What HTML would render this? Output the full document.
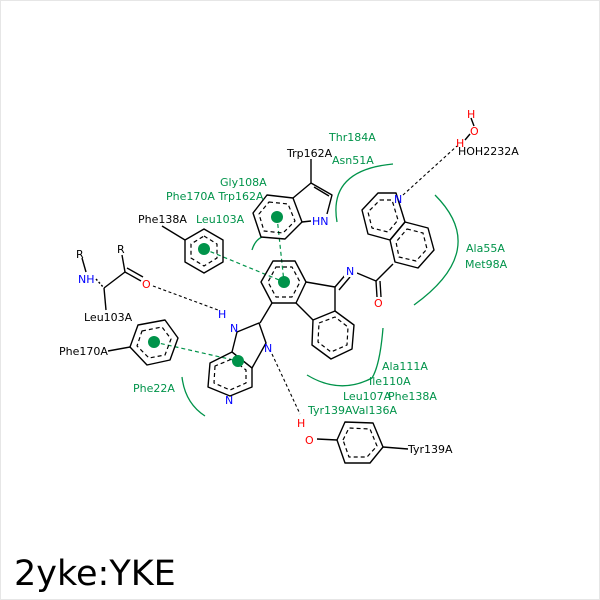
<!DOCTYPE html>
<html><head><meta charset="utf-8"><style>
html,body{margin:0;padding:0;background:#fff}
svg{display:block}
text{font-family:"DejaVu Sans","Liberation Sans",sans-serif;font-size:11px}
.g{fill:#00934a}.k{fill:#000}.b{fill:#0000ff}.r{fill:#ff0000}
</style></head><body>
<svg width="600" height="600" viewBox="0 0 600 600" xmlns="http://www.w3.org/2000/svg">
<rect x="0.5" y="0.5" width="599" height="599" fill="#fff" stroke="#e6e6e6"/>
<g fill="none" stroke="#00934a" stroke-width="1.3">
<path d="M337,222 Q328,170 393,164"/>
<path d="M435,195 Q490,250 414,305"/>
<path d="M182,377 Q185,403 205,416"/>
<path d="M307,375 Q340,395 372,378 Q380,365 383,328"/>
<path d="M252,250 Q255,240 262,237"/>
</g>
<g stroke="#00934a" stroke-width="1.2" stroke-dasharray="4,3" fill="none">
<line x1="204" y1="249" x2="284" y2="282"/>
<line x1="277" y1="217" x2="284" y2="282"/>
<line x1="154" y1="342" x2="238" y2="361"/>
</g>
<g stroke="#000" stroke-width="1.1" stroke-dasharray="3,2.5" fill="none">
<line x1="403" y1="195" x2="457" y2="146"/>
<line x1="153" y1="286" x2="218" y2="310"/>
<line x1="272" y1="354" x2="300" y2="414"/>
</g>
<g stroke="#000" stroke-width="1.4" fill="none" stroke-linejoin="round">
<polygon points="204,229 223,240 223,262 204,273 185,262 185,240"/>
<polygon points="204,236 217,244 217,258 204,266 191,258 191,244" stroke-dasharray="4,3" stroke-width="1.2"/>
<line x1="185" y1="240" x2="162" y2="226"/>
<polygon points="267,195 293,198 302,222 285,239 261,237 253,213"/>
<polygon points="269,202 288,204 295,221 283,233 264,231 259,214" stroke-dasharray="4,3" stroke-width="1.2"/>
<polyline points="293,198 311,183 332,195 327,214"/>
<line x1="314" y1="187" x2="329" y2="196"/>
<line x1="302" y1="222" x2="311" y2="221"/>
<line x1="311" y1="183" x2="311" y2="159"/>
<polygon points="273,261 295,261 306,282 296,303 272,303 261,282"/>
<polygon points="276,267 292,267 300,282 292,297 276,297 268,282" stroke-dasharray="4,3" stroke-width="1.2"/>
<polyline points="306,282 335,287 335,311"/>
<line x1="296" y1="303" x2="313" y2="320"/>
<polygon points="313,320 335,311 354,325 352,349 331,359 312,345"/>
<polygon points="319,323 335,317 348,327 347,345 331,352 318,342" stroke-dasharray="4,3" stroke-width="1.2"/>
<line x1="335" y1="287" x2="347" y2="273"/>
<line x1="339" y1="290" x2="350" y2="277"/>
<line x1="357" y1="273" x2="376" y2="281"/>
<line x1="376" y1="281" x2="377" y2="297"/>
<line x1="380" y1="281" x2="381" y2="297"/>
<line x1="376" y1="281" x2="393" y2="264"/>
<polygon points="378,193 396,193 405,222 390,240 368,234 362,210"/>
<polygon points="380,200 392,200 398,220 388,232 372,228 368,212" stroke-dasharray="4,3" stroke-width="1.2"/>
<polygon points="405,222 428,228 434,250 418,268 395,262 390,240"/>
<polygon points="407,229 423,233 427,249 416,261 399,257 396,242" stroke-dasharray="4,3" stroke-width="1.2"/>
<line x1="272" y1="303" x2="260" y2="323"/>
<polygon points="232,352 237,332 259,323 266,343 252,368"/>
<polygon points="210,363 208,387 230,396 252,387 252,368 232,352"/>
<polygon points="215,366 214,383 230,390 246,383 246,370 232,359" stroke-dasharray="4,3" stroke-width="1.2"/>
<polygon points="138,325 165,320 178,338 170,360 147,365 130,347"/>
<polygon points="142,331 162,327 171,339 165,355 149,358 137,346" stroke-dasharray="4,3" stroke-width="1.2"/>
<line x1="130" y1="347" x2="108" y2="351"/>
<polygon points="337,440 345,422 373,423 383,447 370,463 345,463"/>
<polygon points="343,440 349,428 370,429 377,446 367,457 349,457" stroke-dasharray="4,3" stroke-width="1.2"/>
<line x1="317" y1="439" x2="337" y2="440"/>
<line x1="383" y1="447" x2="408" y2="449"/>
<line x1="96" y1="279" x2="104" y2="288" stroke-dasharray="2,2"/>
<line x1="104" y1="288" x2="125" y2="272"/>
<line x1="125" y1="272" x2="122" y2="255"/>
<line x1="125" y1="272" x2="141" y2="281"/>
<line x1="127" y1="268" x2="143" y2="277"/>
<line x1="104" y1="288" x2="106" y2="310"/>
<line x1="82" y1="258" x2="86" y2="272"/>
<line x1="471" y1="118" x2="474" y2="126"/>
<line x1="470" y1="134" x2="465" y2="140"/>
</g>
<g class="g">
<circle cx="204" cy="249" r="6"/><circle cx="277" cy="217" r="6"/><circle cx="284" cy="282" r="6"/>
<circle cx="154" cy="342" r="6"/><circle cx="238" cy="361" r="6"/>
</g>
<g font-size="12">
<rect x="344" y="264" width="13" height="13" fill="#fff"/>
<text x="346" y="275" class="b">N</text>
<text x="374" y="307" class="r">O</text>
<text x="394" y="203" class="b">N</text>
<text x="312" y="225" class="b">HN</text>
<text x="230" y="332" class="b">N</text>
<text x="218" y="318" class="b">H</text>
<text x="264" y="352" class="b">N</text>
<text x="225" y="404" class="b">N</text>
<text x="142" y="288" class="r">O</text>
<text x="78" y="283" class="b">NH</text>
<text x="76" y="258" class="k">R</text>
<text x="117" y="253" class="k">R</text>
<text x="305" y="444" class="r">O</text>
<text x="297" y="427" class="r">H</text>
<text x="467" y="118" class="r">H</text>
<text x="470" y="135" class="r">O</text>
<text x="456" y="147" class="r">H</text>
</g>
<text x="287" y="157" class="k">Trp162A</text>
<text x="138" y="223" class="k">Phe138A</text>
<text x="84" y="321" class="k">Leu103A</text>
<text x="59" y="355" class="k">Phe170A</text>
<text x="408" y="453" class="k">Tyr139A</text>
<text x="458" y="155" class="k">HOH2232A</text>
<g class="g">
<text x="329" y="141">Thr184A</text>
<text x="332" y="164">Asn51A</text>
<text x="220" y="186">Gly108A</text>
<text x="166" y="200">Phe170A Trp162A</text>
<text x="196" y="223">Leu103A</text>
<text x="466" y="252">Ala55A</text>
<text x="465" y="268">Met98A</text>
<text x="382" y="370">Ala111A</text>
<text x="369" y="385">Ile110A</text>
<text x="343" y="400">Leu107A</text>
<text x="388" y="400">Phe138A</text>
<text x="308" y="414">Tyr139A</text>
<text x="352" y="414">Val136A</text>
<text x="133" y="392">Phe22A</text>
</g>
<text x="14" y="585" style="font-size:35px;font-family:'DejaVu Sans','Liberation Sans',sans-serif" class="k">2yke:YKE</text>
</svg>
</body></html>
